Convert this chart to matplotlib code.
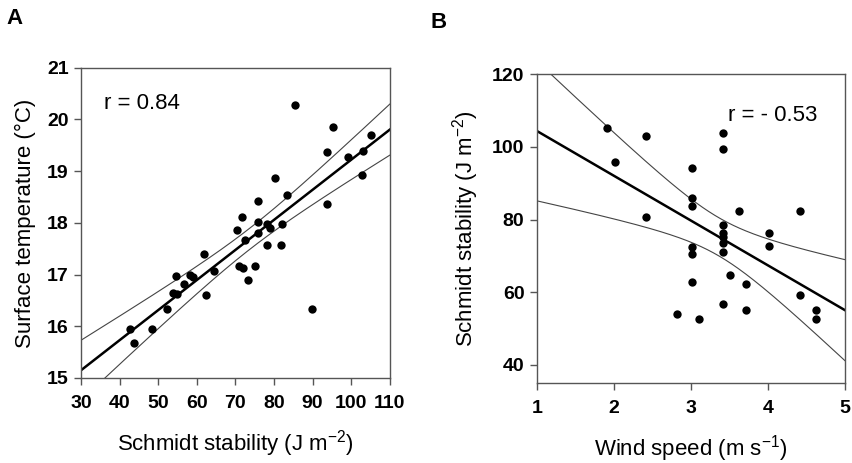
import matplotlib
matplotlib.use("Agg")
import matplotlib.pyplot as plt
import numpy as np

plt.rcParams['font.family'] = ['Liberation Sans', 'DejaVu Sans']
plt.rcParams['mathtext.fontset'] = 'custom'
plt.rcParams['mathtext.rm'] = 'Liberation Sans'
plt.rcParams['mathtext.it'] = 'Liberation Sans'

# panel A: Schmidt stability vs surface temperature
stab_a = [85.4, 95.4, 93.8, 105.0, 103.1, 99.1, 102.7, 93.6, 80.3, 83.3,
          75.8, 71.8, 70.3, 75.8, 78.1, 79.0, 82.1, 75.8, 72.5, 78.3,
          81.8, 61.9, 64.5, 70.9, 72.0, 75.1, 73.3, 54.6, 58.2, 59.1,
          56.7, 53.9, 54.8, 62.4, 52.2, 89.8, 42.7, 48.4, 43.6]
temp_a = [20.28, 19.86, 19.38, 19.70, 19.39, 19.27, 18.92, 18.36, 18.87, 18.54,
          18.43, 18.12, 17.87, 18.01, 17.98, 17.91, 17.98, 17.80, 17.66, 17.58,
          17.58, 17.39, 17.06, 17.17, 17.13, 17.17, 16.89, 16.98, 17.00, 16.96,
          16.82, 16.64, 16.62, 16.61, 16.33, 16.33, 15.95, 15.95, 15.67]

# panel B: wind speed vs Schmidt stability
wind_b = [1.91, 2.01, 2.41, 2.41, 3.01, 3.01, 3.01, 3.01, 3.01, 3.01,
          3.42, 3.42, 3.42, 3.42, 3.42, 3.42, 3.42, 3.42, 3.62, 3.51,
          3.71, 3.71, 2.82, 3.11, 4.02, 4.02, 4.42, 4.42, 4.62, 4.62]
stab_b = [105.3, 95.9, 103.1, 80.8, 94.3, 86.0, 83.6, 72.3, 70.5, 62.9,
          103.7, 99.5, 78.5, 76.2, 75.3, 73.5, 71.0, 56.8, 82.4, 64.8,
          62.2, 55.0, 54.0, 52.6, 76.2, 72.7, 82.4, 59.3, 55.0, 52.7]


def fit_with_ci(x, y, xs, t=2.03):
    x = np.asarray(x); y = np.asarray(y)
    n = len(x)
    b, a = np.polyfit(x, y, 1)
    resid = y - (a + b * x)
    s = np.sqrt(np.sum(resid ** 2) / (n - 2))
    sxx = np.sum((x - x.mean()) ** 2)
    yhat = a + b * xs
    se = s * np.sqrt(1.0 / n + (xs - x.mean()) ** 2 / sxx)
    return yhat, yhat - t * se, yhat + t * se


def style_axes(ax):
    for sp in ax.spines.values():
        sp.set_color('#555555')
        sp.set_linewidth(1.0)
    ax.tick_params(direction='out', length=5, width=1, color='#555555',
                   labelsize=14, top=False, right=False)
    ax.tick_params(axis='x', pad=7)
    ax.tick_params(axis='y', pad=4)
    for lab in ax.get_xticklabels() + ax.get_yticklabels():
        lab.set_fontweight('bold')


fig = plt.figure(figsize=(8.53, 4.63), dpi=100)
axA = fig.add_axes([0.095, 0.1836, 0.362, 0.670])
axB = fig.add_axes([0.6295, 0.1728, 0.361, 0.667])

# A
xs = np.linspace(30, 110, 200)
yhat, lo, hi = fit_with_ci(stab_a, temp_a, xs, t=2.026)
axA.plot(xs, hi, color='#444444', lw=0.8)
axA.plot(xs, lo, color='#444444', lw=0.8)
axA.plot(xs, yhat, color='black', lw=1.8)
axA.scatter(stab_a, temp_a, s=36, color='black', zorder=3, linewidths=0)
axA.set_xlim(30, 110)
axA.set_ylim(15, 21)
axA.set_xticks(np.arange(30, 111, 10))
axA.set_yticks(np.arange(15, 22, 1))
axA.set_xlabel(r'Schmidt stability (J m$^{-2}$)', fontsize=16, labelpad=12)
axA.set_ylabel('Surface temperature (°C)', fontsize=16, labelpad=8)
axA.text(0.075, 0.885, 'r = 0.84', transform=axA.transAxes, fontsize=16,
         va='center', ha='left')
style_axes(axA)

# B
xs = np.linspace(1, 5, 200)
yhat, lo, hi = fit_with_ci(wind_b, stab_b, xs, t=2.048)
axB.plot(xs, hi, color='#444444', lw=0.8)
axB.plot(xs, lo, color='#444444', lw=0.8)
axB.plot(xs, yhat, color='black', lw=1.8)
axB.scatter(wind_b, stab_b, s=36, color='black', zorder=3, linewidths=0)
axB.set_xlim(1, 5)
axB.set_ylim(35, 120)
axB.set_xticks([1, 2, 3, 4, 5])
axB.set_yticks([40, 60, 80, 100, 120])
axB.set_xlabel(r'Wind speed (m s$^{-1}$)', fontsize=16, labelpad=12)
axB.set_ylabel(r'Schmidt stability (J m$^{-2}$)', fontsize=16, labelpad=8)
axB.text(0.62, 0.865, 'r = - 0.53', transform=axB.transAxes, fontsize=16,
         va='center', ha='left')
style_axes(axB)

fig.text(6 / 853, 1 - 19 / 463, 'A', fontsize=16, fontweight='bold', va='center')
fig.text(430 / 853, 1 - 23 / 463, 'B', fontsize=16, fontweight='bold', va='center')

fig.savefig('out.png', dpi=100)
